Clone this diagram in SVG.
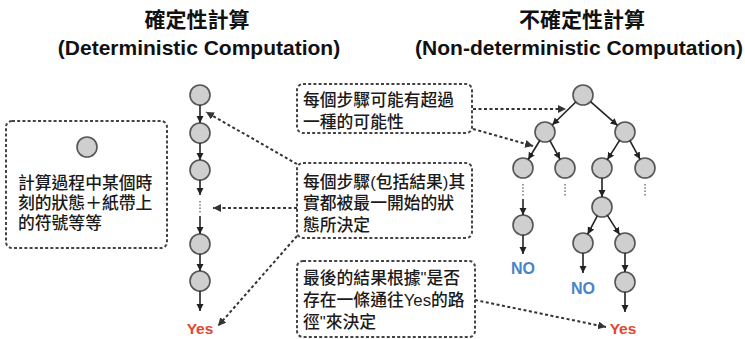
<svg xmlns="http://www.w3.org/2000/svg" width="745" height="339" viewBox="0 0 745 339">
<style>
  .title { font-family: "Liberation Sans", "Noto Sans CJK TC", sans-serif; font-weight: bold; font-size: 21px; fill: #111; text-anchor: middle; }
  .body { font-family: "Liberation Sans", "Noto Sans CJK TC", sans-serif; font-weight: 500; font-size: 16.8px; fill: #1a1a1a; }
  .box { fill: #fff; stroke: #444; stroke-width: 2; stroke-dasharray: 3 2.2; }
  .node { fill: #cfcfcf; stroke: #555; stroke-width: 1.6; }
  .edge { stroke: #222; stroke-width: 1.6; fill: none; marker-end: url(#ah); }
  .dash { stroke: #333; stroke-width: 2; stroke-dasharray: 3 2.5; fill: none; marker-end: url(#ah2); }
  .dots { stroke: #777; stroke-width: 1.5; stroke-dasharray: 1.5 1.8; }
  .yes { font-family: "Liberation Sans", sans-serif; font-weight: bold; font-size: 15.5px; fill: #e4452d; text-anchor: middle; }
  .no { font-family: "Liberation Sans", sans-serif; font-weight: bold; font-size: 16px; fill: #4a84c6; text-anchor: middle; }
</style>
<defs>
  <marker id="ah" markerUnits="userSpaceOnUse" markerWidth="8" markerHeight="8" refX="7" refY="3.5" orient="auto">
    <path d="M0,0 L7,3.5 L0,7 z" fill="#222"/>
  </marker>
  <marker id="ah2" markerUnits="userSpaceOnUse" markerWidth="9" markerHeight="9" refX="8" refY="4" orient="auto">
    <path d="M0,0 L8,4 L0,8 z" fill="#333"/>
  </marker>
</defs>
<rect width="745" height="339" fill="#fff"/>

<g id="title-left">
  <text class="title" x="197" y="27">確定性計算</text>
  <text class="title" x="199" y="55">(Deterministic Computation)</text>
</g>
<g id="title-right">
  <text class="title" x="582" y="27">不確定性計算</text>
  <text class="title" x="579" y="55">(Non-deterministic Computation)</text>
</g>

<g id="legend">
  <rect class="box" x="6" y="121" width="161" height="127" rx="6"/>
  <circle class="node" cx="87" cy="147" r="10"/>
  <text class="body" x="18" y="189">計算過程中某個時</text>
  <text class="body" x="18" y="209">刻的狀態＋紙帶上</text>
  <text class="body" x="18" y="229">的符號等等</text>
</g>

<g id="note-branch">
  <rect class="box" x="297" y="84" width="175" height="49" rx="6"/>
  <text class="body" x="303" y="106">每個步驟可能有超過</text>
  <text class="body" x="303" y="128">一種的可能性</text>
</g>
<g id="note-determined">
  <rect class="box" x="297" y="163" width="175" height="75" rx="6"/>
  <text class="body" x="303" y="188">每個步驟(包括結果)其</text>
  <text class="body" x="303" y="209">實都被最一開始的狀</text>
  <text class="body" x="303" y="231">態所決定</text>
</g>
<g id="note-result">
  <rect class="box" x="297" y="261" width="178" height="76" rx="6"/>
  <text class="body" x="303" y="284">最後的結果根據"是否</text>
  <text class="body" x="303" y="306">存在一條通往Yes的路</text>
  <text class="body" x="303" y="328">徑"來決定</text>
</g>

<g id="det-chain">
  <circle class="node" cx="200" cy="95" r="10"/>
  <circle class="node" cx="200" cy="133" r="10"/>
  <circle class="node" cx="200" cy="170" r="10"/>
  <circle class="node" cx="200" cy="244" r="10"/>
  <circle class="node" cx="200" cy="281" r="10"/>
  <text class="yes" x="200" y="334">Yes</text>
</g>

<g id="nondet-tree">
  <circle class="node" cx="583" cy="95" r="10"/>
  <circle class="node" cx="545" cy="132" r="10"/>
  <circle class="node" cx="625" cy="132" r="10"/>
  <circle class="node" cx="523" cy="168" r="10"/>
  <circle class="node" cx="565" cy="168" r="10"/>
  <circle class="node" cx="602" cy="168" r="10"/>
  <circle class="node" cx="645" cy="168" r="10"/>
  <circle class="node" cx="523" cy="225" r="10"/>
  <circle class="node" cx="602" cy="207" r="10"/>
  <circle class="node" cx="583" cy="243" r="10"/>
  <circle class="node" cx="625" cy="243" r="10"/>
  <circle class="node" cx="625" cy="282" r="10"/>
  <text class="no" x="523" y="274">NO</text>
  <text class="no" x="583" y="294">NO</text>
  <text class="yes" x="623" y="334">Yes</text>
</g>

<g id="connectors">
  <line class="edge" x1="200" y1="105" x2="200" y2="123"/>
  <line class="edge" x1="200" y1="143" x2="200" y2="160"/>
  <line class="edge" x1="200" y1="180" x2="200" y2="195"/>
  <line class="dots" x1="200" y1="201" x2="200" y2="213"/>
  <line class="edge" x1="200" y1="216" x2="200" y2="234"/>
  <line class="edge" x1="200" y1="254" x2="200" y2="271"/>
  <line class="edge" x1="200" y1="291" x2="200" y2="311"/>
  <line class="edge" x1="575.8" y1="102" x2="552.2" y2="125"/>
  <line class="edge" x1="590.5" y1="101.6" x2="617.5" y2="125.4"/>
  <line class="edge" x1="539.8" y1="140.5" x2="528.2" y2="159.5"/>
  <line class="edge" x1="549.9" y1="140.7" x2="560.1" y2="159.3"/>
  <line class="edge" x1="619.6" y1="140.4" x2="607.4" y2="159.6"/>
  <line class="edge" x1="629.9" y1="140.7" x2="640.1" y2="159.3"/>
  <line class="dots" x1="523" y1="184" x2="523" y2="196"/>
  <line class="dots" x1="565" y1="184" x2="565" y2="196"/>
  <line class="dots" x1="645" y1="184" x2="645" y2="196"/>
  <line class="edge" x1="523" y1="199" x2="523" y2="215"/>
  <line class="edge" x1="523" y1="235" x2="523" y2="254"/>
  <line class="edge" x1="602" y1="178" x2="602" y2="197"/>
  <line class="edge" x1="597.3" y1="215.8" x2="587.7" y2="234.2"/>
  <line class="edge" x1="607.4" y1="215.4" x2="619.6" y2="234.6"/>
  <line class="edge" x1="583" y1="253" x2="583" y2="273"/>
  <line class="edge" x1="625" y1="253" x2="625" y2="272"/>
  <line class="edge" x1="625" y1="292" x2="625" y2="312"/>
  <line class="dash" x1="297" y1="164" x2="206" y2="112"/>
  <line class="dash" x1="297" y1="208" x2="213" y2="208"/>
  <line class="dash" x1="297" y1="236" x2="218" y2="326"/>
  <line class="dash" x1="473" y1="109" x2="566" y2="109"/>
  <line class="dash" x1="473" y1="129" x2="533" y2="146"/>
  <line class="dash" x1="475" y1="300" x2="606" y2="327"/>
</g>
</svg>
